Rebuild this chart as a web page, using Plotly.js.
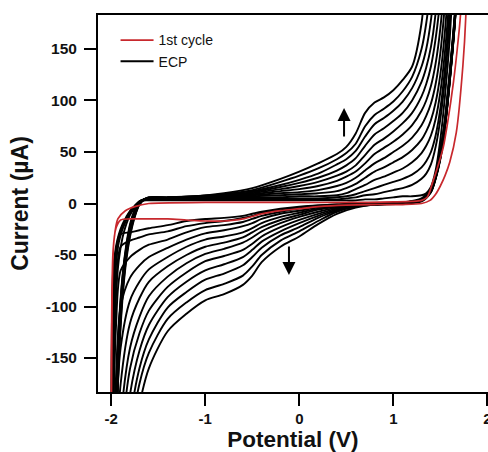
<!DOCTYPE html>
<html>
<head>
<meta charset="utf-8">
<script src="https://cdn.plot.ly/plotly-3.0.1.min.js"></script>
<style>html,body{margin:0;padding:0;background:#fff;}#chart{width:488px;height:452px;}</style>
</head>
<body>
<div id="chart"></div>
<script>
// ---- Data (potential in V, current in µA) ----
// First cycle (red)
const firstCathodicX = [1.8, 1.77, 1.74, 1.67, 1.6, 1.55, 1.5, 1.45, 1.39, 1.3, 1.1, 0.8, 0.5, 0.2, 0.0, -0.2, -0.4, -0.6, -0.8, -1.0, -1.2, -1.4, -1.6, -1.8, -1.9, -1.95, -1.98, -2.0];
const firstCathodicY = [300, 180, 134, 69, 40, 27, 17, 9, 3, 0, -1, -1, -1.5, -3, -5, -7, -10, -15, -17, -17, -16, -15, -15, -15, -16, -24, -45, -300];
const firstAnodicX = [-2.0, -1.99, -1.97, -1.93, -1.85, -1.75, -1.6, -1.0, 0.0, 0.5, 1.0, 1.2, 1.3, 1.36, 1.42, 1.47, 1.53, 1.58, 1.64, 1.68, 1.71, 1.74, 1.8];
const firstAnodicY = [-300, -80, -35, -15, -7, -3, 0, 1, 1, 1, 1.5, 2, 3, 6, 21, 35, 54, 80, 118, 150, 178, 220, 300];

// ECP cycles (black): shared potential grids, one current array per cycle
const ecpCathodicX = [1.72, 1.66, 1.6, 1.55, 1.5, 1.45, 1.4, 1.3, 1.1, 0.8, 0.6, 0.4, 0.2, 0.0, -0.2, -0.4, -0.5, -0.6, -0.8, -1.0, -1.2, -1.4, -1.6, -1.7, -1.8, -1.9, -1.95, -2.0];
const ecpAnodicX = [-2.0, -1.98, -1.95, -1.92, -1.88, -1.84, -1.8, -1.75, -1.7, -1.65, -1.6, -1.4, -1.1, -0.8, -0.5, -0.2, 0.0, 0.2, 0.4, 0.5, 0.6, 0.7, 0.8, 0.9, 1.0, 1.1, 1.2, 1.3, 1.35, 1.4, 1.45, 1.5, 1.55, 1.6, 1.65, 1.7];

const ecpCathodic1  = [300, 192, 128, 82, 50, 28, 15, 5, 1, 0, 0, -1, -2, -3, -5, -8, -10, -12, -14, -15, -17, -21, -24, -26, -28, -30, -55, -300];
const ecpCathodic2  = [300, 190, 126, 81, 49, 28, 14, 4, 1, 0, 0, -1, -2, -4, -6, -9, -12, -14, -17, -19, -22, -27, -30, -33, -36, -42, -85, -300];
const ecpCathodic3  = [300, 189, 125, 80, 48, 27, 14, 4, 1, 0, 0, -2, -3, -5, -8, -12, -15, -18, -21, -23, -28, -35, -40, -45, -52, -65, -120, -300];
const ecpCathodic4  = [300, 188, 124, 79, 47, 27, 13, 4, 1, 0, -1, -2, -4, -7, -10, -15, -19, -22, -26, -29, -35, -43, -52, -60, -72, -100, -170, -350];
const ecpCathodic5  = [300, 187, 123, 78, 47, 26, 13, 4, 1, 0, -1, -3, -5, -9, -13, -19, -24, -28, -32, -35, -42, -52, -64, -76, -94, -140, -210, -400];
const ecpCathodic6  = [300, 186, 122, 78, 46, 26, 13, 3, 0, 0, -1, -3, -6, -11, -16, -23, -28, -33, -38, -42, -50, -61, -76, -92, -116, -175, -250, -400];
const ecpCathodic7  = [300, 185, 121, 77, 46, 26, 12, 3, 0, 0, -2, -4, -8, -13, -19, -27, -33, -38, -44, -49, -58, -71, -90, -110, -140, -210, -300, -400];
const ecpCathodic8  = [300, 185, 120, 76, 45, 25, 12, 3, 0, -1, -2, -5, -10, -16, -23, -32, -39, -45, -51, -56, -67, -81, -104, -126, -160, -240, -330, -400];
const ecpCathodic9  = [300, 184, 120, 76, 45, 25, 12, 3, 0, -1, -2, -6, -12, -19, -27, -37, -45, -52, -59, -65, -76, -91, -118, -143, -185, -270, -350, -400];
const ecpCathodic10 = [300, 183, 119, 75, 44, 25, 12, 3, 0, -1, -3, -7, -14, -23, -31, -43, -52, -60, -68, -74, -86, -101, -132, -160, -210, -300, -380, -400];
const ecpCathodic11 = [300, 183, 118, 75, 44, 24, 11, 3, 0, -1, -3, -8, -17, -27, -36, -50, -61, -70, -78, -84, -96, -112, -145, -175, -230, -330, -400, -400];
const ecpCathodic12 = [300, 182, 118, 74, 43, 24, 11, 2, 0, -1, -4, -10, -20, -32, -42, -57, -70, -79, -88, -94, -107, -124, -160, -195, -250, -360, -400, -400];

const ecpAnodic1  = [-300, -75, -45, -32, -22, -14, -8, -3, 1, 3, 3, 3, 3, 3, 3, 3, 3, 3, 3, 3, 3, 4, 4, 5, 6, 7, 7, 8, 10, 16, 32, 62, 105, 160, 240, 320];
const ecpAnodic2  = [-300, -65, -42, -30, -20, -13, -7, -2, 2, 3, 4, 4, 4, 4, 4, 4, 4, 4, 4, 5, 6, 8, 9, 11, 13, 15, 18, 24, 29, 38, 55, 82, 122, 178, 250, 330];
const ecpAnodic3  = [-300, -140, -60, -38, -25, -16, -9, -3, 2, 4, 4, 4, 5, 5, 5, 5, 5, 5, 6, 7, 9, 12, 15, 18, 21, 24, 28, 35, 41, 50, 66, 92, 132, 190, 260, 340];
const ecpAnodic4  = [-300, -200, -90, -55, -33, -20, -11, -4, 2, 4, 5, 5, 5, 6, 6, 6, 7, 7, 8, 10, 14, 18, 23, 26, 30, 34, 40, 49, 56, 66, 82, 108, 148, 205, 280, 350];
const ecpAnodic5  = [-400, -300, -190, -120, -70, -40, -20, -6, 2, 4, 5, 5, 5, 6, 7, 8, 9, 10, 12, 15, 19, 25, 31, 35, 40, 45, 52, 62, 70, 81, 98, 125, 168, 230, 300, 360];
const ecpAnodic6  = [-400, -300, -200, -125, -72, -42, -22, -7, 1, 4, 5, 5, 6, 7, 8, 10, 11, 13, 17, 20, 25, 32, 39, 44, 50, 56, 64, 76, 85, 97, 116, 146, 195, 260, 330, 380];
const ecpAnodic7  = [-400, -320, -210, -130, -75, -44, -23, -8, 1, 4, 5, 5, 6, 7, 9, 12, 14, 17, 22, 26, 31, 39, 48, 54, 60, 67, 76, 90, 100, 114, 136, 170, 225, 300, 360, 400];
const ecpAnodic8  = [-400, -330, -215, -135, -78, -46, -25, -9, 0, 4, 5, 5, 6, 8, 10, 14, 17, 21, 27, 31, 37, 47, 57, 63, 70, 78, 88, 104, 116, 133, 160, 200, 265, 340, 400, 400];
const ecpAnodic9  = [-400, -340, -220, -140, -80, -48, -27, -10, 0, 4, 5, 5, 6, 8, 11, 16, 20, 25, 32, 37, 44, 56, 67, 73, 80, 88, 100, 118, 132, 152, 185, 240, 320, 400, 400, 400];
const ecpAnodic10 = [-400, -350, -230, -145, -84, -50, -28, -11, 0, 4, 6, 6, 7, 9, 12, 18, 23, 29, 38, 43, 51, 65, 77, 83, 90, 99, 112, 133, 150, 178, 225, 300, 400, 400, 400, 400];
const ecpAnodic11 = [-400, -360, -240, -150, -88, -52, -30, -12, -1, 4, 6, 6, 7, 9, 13, 21, 27, 34, 43, 49, 58, 75, 86, 92, 99, 109, 123, 150, 175, 215, 280, 380, 400, 400, 400, 400];
const ecpAnodic12 = [-400, -370, -250, -155, -92, -55, -32, -13, -1, 4, 6, 6, 7, 10, 15, 24, 31, 39, 48, 55, 68, 88, 98, 103, 110, 120, 133, 175, 230, 300, 400, 400, 400, 400, 400, 400];

const ecpCathodic = [ecpCathodic1, ecpCathodic2, ecpCathodic3, ecpCathodic4, ecpCathodic5, ecpCathodic6, ecpCathodic7, ecpCathodic8, ecpCathodic9, ecpCathodic10, ecpCathodic11, ecpCathodic12];
const ecpAnodic = [ecpAnodic1, ecpAnodic2, ecpAnodic3, ecpAnodic4, ecpAnodic5, ecpAnodic6, ecpAnodic7, ecpAnodic8, ecpAnodic9, ecpAnodic10, ecpAnodic11, ecpAnodic12];

const xTicks = [-2, -1, 0, 1, 2];
const yTicks = [-150, -100, -50, 0, 50, 100, 150];
const seriesNames = ['1st cycle', 'ECP'];

// Arrow annotations (tail -> head), in data units
const upArrow = {x: 0.476, tail: 63.5, head: 92.6};
const downArrow = {x: -0.11, tail: -40.4, head: -69.5};

// ---- Build traces ----
const traces = [];
ecpCathodic.forEach((cy, i) => {
  traces.push({
    type: 'scatter', mode: 'lines',
    x: ecpCathodicX.concat(ecpAnodicX),
    y: cy.concat(ecpAnodic[i]),
    line: {color: '#000000', width: 1.9, shape: 'spline', smoothing: 0.8},
    name: seriesNames[1],
    showlegend: i === 0,
    legendrank: 2,
    hoverinfo: 'skip'
  });
});
traces.push({
  type: 'scatter', mode: 'lines',
  x: firstCathodicX.concat(firstAnodicX),
  y: firstCathodicY.concat(firstAnodicY),
  line: {color: '#c8282d', width: 1.7, shape: 'spline', smoothing: 0.8},
  name: seriesNames[0],
  legendrank: 1,
  hoverinfo: 'skip'
});

const fontFamily = '"Liberation Sans", Arial, sans-serif';

const layout = {
  width: 488, height: 452,
  margin: {l: 98, r: 0, t: 15, b: 60, pad: 0},
  paper_bgcolor: '#ffffff', plot_bgcolor: '#ffffff',
  font: {family: fontFamily, color: '#000'},
  showlegend: true,
  legend: {
    x: 0.045, y: 0.975, xanchor: 'left', yanchor: 'top',
    bgcolor: 'rgba(0,0,0,0)', borderwidth: 0,
    font: {family: fontFamily, size: 14, color: '#111'},
    tracegroupgap: 0, itemwidth: 33
  },
  xaxis: {
    range: [-2.141, 2.007], tickvals: xTicks, ticktext: xTicks.map(String),
    ticks: 'outside', ticklen: 12, tickwidth: 2, tickcolor: '#000',
    showline: true, linewidth: 2, linecolor: '#000', mirror: true,
    showgrid: false, zeroline: false, ticklabelstandoff: 0, ticklabeloverflow: 'allow',
    tickfont: {family: fontFamily, size: 15, weight: 'bold', color: '#111'},
    title: {text: 'Potential (V)', font: {family: fontFamily, size: 22.5, weight: 'bold', color: '#111'}, standoff: 0}
  },
  yaxis: {
    range: [-183, 183], tickvals: yTicks, ticktext: yTicks.map(String),
    ticks: 'outside', ticklen: 12, tickwidth: 2, tickcolor: '#000',
    showline: true, linewidth: 2, linecolor: '#000', mirror: false,
    showgrid: false, zeroline: false, ticklabelstandoff: 4,
    tickfont: {family: fontFamily, size: 15.5, weight: 'bold', color: '#111'},
    title: {text: 'Current (µA)', font: {family: fontFamily, size: 23, weight: 'bold', color: '#111'}, standoff: 11}
  },
  annotations: [upArrow, downArrow].map(a => ({
    x: a.x, y: a.head, ax: a.x, ay: a.tail, xref: 'x', yref: 'y', axref: 'x', ayref: 'y',
    text: '', showarrow: true, arrowhead: 2, arrowsize: 1.3, arrowwidth: 2, arrowcolor: '#000'
  }))
};

Plotly.newPlot('chart', traces, layout, {displayModeBar: false, staticPlot: true});
</script>
</body>
</html>
